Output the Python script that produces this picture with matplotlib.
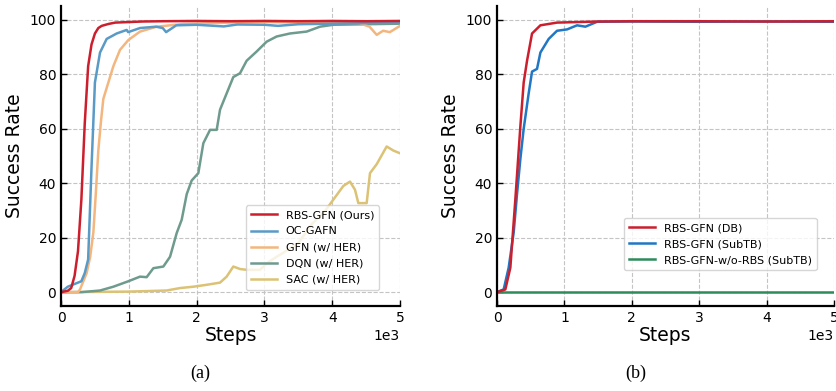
import matplotlib.pyplot as plt

# ---- panel (a) data: success rate (%) vs steps ----
rbs_x = [0, 100, 150, 200, 250, 300, 350, 400, 450, 500, 550, 600, 700, 800, 1000,
         1200, 1500, 2000, 2500, 3000, 3500, 4000, 4500, 5000]
rbs_y = [0, 0.5, 1.5, 6, 15, 34, 62, 83, 91, 95, 97, 97.8, 98.5, 99, 99.2,
         99.4, 99.5, 99.6, 99.5, 99.6, 99.5, 99.6, 99.5, 99.6]

ocg_x = [0, 100, 200, 300, 350, 400, 450, 500, 575, 673, 821, 968, 990, 1165, 1400,
         1500, 1550, 1700, 2000, 2400, 2600, 3000, 3200, 3500, 4000, 4500, 5000]
ocg_y = [0, 2, 3, 4, 7, 12, 46, 77, 88, 93, 95, 96.3, 95.5, 97, 97.5,
         97, 95.5, 98, 98.2, 97.6, 98.3, 98.2, 97.8, 98.4, 98.6, 98.8, 99]

gfn_x = [0, 250, 280, 378, 430, 477, 510, 550, 590, 624, 698, 772, 870, 993, 1165,
         1411, 1805, 2500, 3000, 3500, 4000, 4400, 4550, 4656, 4750, 4850, 5000]
gfn_y = [0, 0, 1, 7, 13, 22, 35, 52, 63, 71, 77, 83, 89, 92.6, 95.7,
         97.5, 98.5, 99, 99.2, 99, 99, 98.8, 97.5, 94.5, 96, 95.5, 97.8]

dqn_x = [0, 300, 575, 772, 993, 1165, 1263, 1362, 1509, 1608, 1706, 1780, 1854, 1927,
         2025, 2099, 2198, 2296, 2345, 2443, 2541, 2640, 2738, 2886, 3033, 3181,
         3377, 3623, 3820, 4017, 4500, 5000]
dqn_y = [0, 0, 0.6, 2, 4, 5.7, 5.5, 8.8, 9.4, 13, 21.7, 26.6, 36, 41,
         43.7, 54.7, 59.6, 59.6, 67, 73, 79, 80.4, 85, 88.4, 92, 93.9,
         95, 95.7, 97.5, 98.2, 98.4, 98.6]

sac_x = [0, 1000, 1558, 1755, 1952, 2148, 2345, 2443, 2541, 2640, 2738, 2935, 3033,
         3181, 3377, 3500, 3700, 3900, 4017, 4164, 4262, 4336, 4385, 4508, 4557,
         4656, 4803, 4902, 5000]
sac_y = [0, 0.2, 0.6, 1.5, 2, 2.7, 3.5, 5.7, 9.4, 8.5, 8.2, 8.2, 10.6,
         13, 16, 18, 25, 30, 34, 39, 40.6, 37.6, 32.7, 32.7, 43.7,
         47, 53.5, 52, 51]

# ---- panel (b) data ----
db_x = [0, 124, 198, 272, 347, 396, 446, 520, 644, 891, 1500, 2000, 3000, 4000, 5000]
db_y = [0, 1, 9, 34, 61, 77, 85, 95, 98, 99, 99.4, 99.5, 99.5, 99.4, 99.5]

subtb_x = [0, 99, 173, 248, 297, 347, 396, 470, 520, 594, 644, 767, 891, 1040, 1188,
           1312, 1485, 2000, 3000, 4000, 5000]
subtb_y = [0, 1, 9, 22, 36, 49, 60, 73, 81, 82, 88, 93, 96, 96.5, 98,
           97.5, 99.3, 99.4, 99.3, 99.4, 99.3]

norbs_x = [0, 5000]
norbs_y = [0, 0]

fig = plt.figure(figsize=(8.36, 3.91), dpi=100)
ax_a = fig.add_axes([0.073, 0.218, 0.4055, 0.766])
ax_b = fig.add_axes([0.5945, 0.218, 0.4030, 0.766])


def style_axis(ax):
    ax.set_xlim(0, 5000)
    ax.set_ylim(-5, 105)
    ax.set_xticks([0, 1000, 2000, 3000, 4000, 5000])
    ax.set_yticks([0, 20, 40, 60, 80, 100])
    ax.ticklabel_format(style='sci', axis='x', scilimits=(0, 0))
    ax.xaxis.get_offset_text().set_fontsize(10)
    ax.spines['top'].set_visible(False)
    ax.spines['right'].set_visible(False)
    ax.spines['left'].set_linewidth(1.6)
    ax.spines['bottom'].set_linewidth(1.6)
    ax.tick_params(direction='in', length=4, width=1, labelsize=10)
    ax.grid(True, linestyle='--', color='#c4c4c4', linewidth=0.8)
    ax.set_axisbelow(True)
    ax.set_xlabel('Steps', fontsize=13.5, labelpad=1)
    ax.set_ylabel('Success Rate', fontsize=13.5, labelpad=4)


lw = 1.8
leg_kw = dict(loc='lower right', fontsize=8, handlelength=2.3, labelspacing=0.55,
              borderpad=0.45, framealpha=0.8, edgecolor='#cccccc')

ax_a.plot(sac_x, sac_y, color='#dbc274', lw=lw, label='SAC (w/ HER)')
ax_a.plot(dqn_x, dqn_y, color='#6e9b8e', lw=lw, label='DQN (w/ HER)')
ax_a.plot(gfn_x, gfn_y, color='#f3b67f', lw=lw, label='GFN (w/ HER)')
ax_a.plot(ocg_x, ocg_y, color='#5a9ac6', lw=lw, label='OC-GAFN')
ax_a.plot(rbs_x, rbs_y, color='#cc1f2d', lw=lw, label='RBS-GFN (Ours)')
style_axis(ax_a)
h, l = ax_a.get_legend_handles_labels()
ax_a.legend(h[::-1], l[::-1], bbox_to_anchor=(0.955, 0.035), **leg_kw)

ax_b.plot(norbs_x, norbs_y, color='#2e8b5a', lw=lw, label='RBS-GFN-w/o-RBS (SubTB)')
ax_b.plot(subtb_x, subtb_y, color='#2177c4', lw=lw, label='RBS-GFN (SubTB)')
ax_b.plot(db_x, db_y, color='#cc1f2d', lw=lw, label='RBS-GFN (DB)')
style_axis(ax_b)
h, l = ax_b.get_legend_handles_labels()
ax_b.legend(h[::-1], l[::-1], bbox_to_anchor=(0.965, 0.1), **leg_kw)

fig.text(0.239, 0.033, '(a)', fontsize=13, family='Liberation Serif', ha='center')
fig.text(0.761, 0.033, '(b)', fontsize=13, family='Liberation Serif', ha='center')

fig.savefig('out.png', dpi=100)
